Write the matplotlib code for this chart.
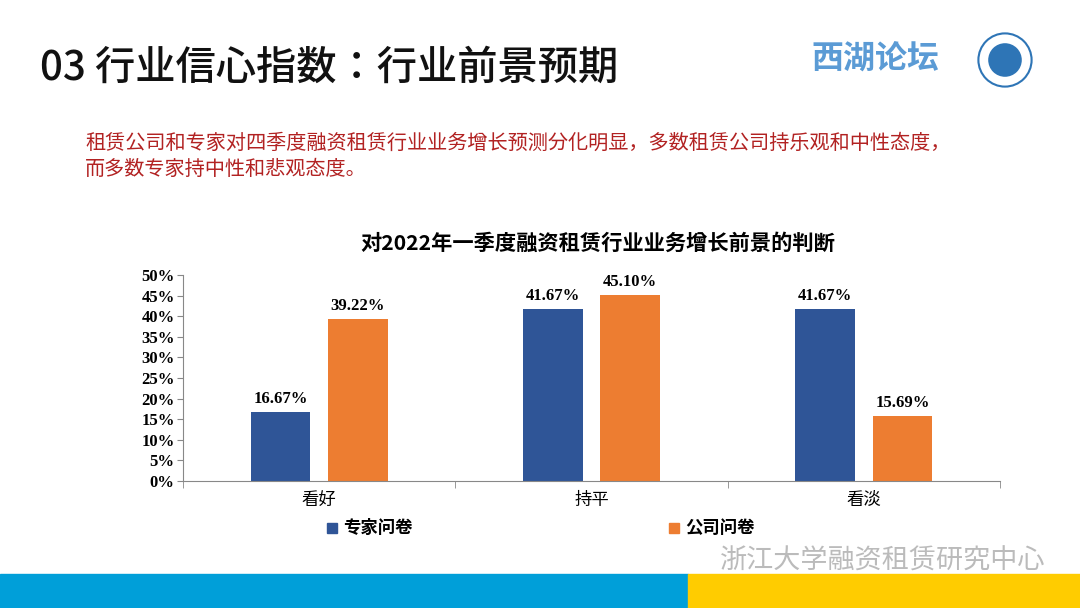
import matplotlib
matplotlib.use("Agg")
import matplotlib.pyplot as plt
from matplotlib.patches import Rectangle
from matplotlib import font_manager as fm
import numpy as np

categories = ["看好", "持平", "看淡"]
expert = [16.67, 41.67, 41.67]
company = [39.22, 45.10, 15.69]
series_names = ["专家问卷", "公司问卷"]
yticks = [0, 5, 10, 15, 20, 25, 30, 35, 40, 45, 50]

cjk_files = [f for f in fm.findSystemFonts() if "cjk" in f.lower()]
def pick(words):
    for wd in words:
        c = [f for f in cjk_files if wd in f.split("/")[-1]]
        c.sort(key=lambda f: (0 if "SC" in f else 1, len(f)))
        if c:
            return c[0]
    bad = ("Light", "Thin", "Black", "DemiLight")
    c = [f for f in cjk_files if not any(b in f for b in bad)]
    return c[0] if c else (cjk_files[0] if cjk_files else None)
FILES = {"r": pick(["Regular"]), "m": pick(["Medium", "Regular"]), "b": pick(["Bold"])}
def CJ(size, w="r"):
    f = FILES[w]
    if f:
        return fm.FontProperties(fname=f, size=size)
    return fm.FontProperties(family="Noto Sans CJK SC", size=size,
                             weight={"r": "normal", "m": "medium", "b": "bold"}[w])

SERIF = "Liberation Serif"
BLUE = "#2F5597"
ORANGE = "#ED7D31"

fig = plt.figure(figsize=(10.8, 6.08), dpi=100)
W, H = 1080, 608
def fx(x): return x / W
def fy(y): return 1 - y / H

fig.text(fx(40), fy(68), "03 行业信心指数：行业前景预期", fontproperties=CJ(29, "m"),
         va="center", ha="left", color="#111111")
fig.text(fx(875), fy(60), "西湖论坛", fontproperties=CJ(23, "b"),
         va="center", ha="center", color="#5B9BD5")
ax_logo = fig.add_axes([fx(977), fy(88), 56 / W, 56 / H])
ax_logo.set_xlim(-1, 1); ax_logo.set_ylim(-1, 1); ax_logo.axis("off"); ax_logo.set_aspect("equal")
ax_logo.add_patch(plt.Circle((0, 0), 0.95, fc="white", ec="#2E75B6", lw=1.5))
ax_logo.add_patch(plt.Circle((0, 0), 0.6, fc="#2E75B6", ec="none"))

fig.text(fx(85), fy(143), "租赁公司和专家对四季度融资租赁行业业务增长预测分化明显，多数租赁公司持乐观和中性态度，",
         fontproperties=CJ(14.5), color="#B22222", va="center")
fig.text(fx(85), fy(169), "而多数专家持中性和悲观态度。",
         fontproperties=CJ(14.5), color="#B22222", va="center")
fig.text(fx(598), fy(243), "对2022年一季度融资租赁行业业务增长前景的判断",
         fontproperties=CJ(15.3, "b"), ha="center", va="center")

ax = fig.add_axes([fx(183), fy(481), (1000 - 183) / W, (481 - 275) / H])
x = np.arange(len(categories))
w = 0.22
b1 = ax.bar(x - 0.142, expert, w, color=BLUE)
b2 = ax.bar(x + 0.142, company, w, color=ORANGE)
for bars, vals in ((b1, expert), (b2, company)):
    for r, v in zip(bars, vals):
        ax.text(r.get_x() + r.get_width() / 2, v + 1.2, f"{v:.2f}%", ha="center", va="bottom",
                fontsize=12, fontfamily=SERIF, fontweight="bold")
ax.set_xlim(-0.5, 2.5)
ax.set_ylim(0, 50)
ax.set_yticks(yticks)
ax.set_yticklabels([f"{t}%" for t in yticks], fontfamily=SERIF, fontweight="bold", fontsize=12)
ax.set_xticks(x)
ax.set_xticklabels(categories)
for t in ax.get_xticklabels():
    t.set_fontproperties(CJ(12.5))
ax.set_xticks([-0.5, 0.5, 1.5, 2.5], minor=True)
ax.tick_params(axis="x", which="major", length=0, pad=7)
ax.tick_params(axis="x", which="minor", length=5, color="#888888")
ax.tick_params(axis="y", length=4, color="#888888", pad=2)
for s in ("top", "right"):
    ax.spines[s].set_visible(False)
for s in ("left", "bottom"):
    ax.spines[s].set_color("#888888")

for xx, col, name in ((332, BLUE, series_names[0]), (674, ORANGE, series_names[1])):
    fig.patches.append(Rectangle((fx(xx - 5), fy(533)), 10 / W, 10 / H, color=col,
                                 transform=fig.transFigure))
    fig.text(fx(xx + 11), fy(528), name, fontproperties=CJ(12.5, "b"), va="center")

fig.text(fx(1045), fy(561), "浙江大学融资租赁研究中心", fontproperties=CJ(19.5),
         color="#BBBBBB", ha="right", va="center")
fig.patches.append(Rectangle((0, 0), fx(688), 34 / H, color="#009FD9", transform=fig.transFigure))
fig.patches.append(Rectangle((fx(688), 0), 1 - fx(688), 34 / H, color="#FFCC00", transform=fig.transFigure))

fig.savefig("out.png", dpi=100)
